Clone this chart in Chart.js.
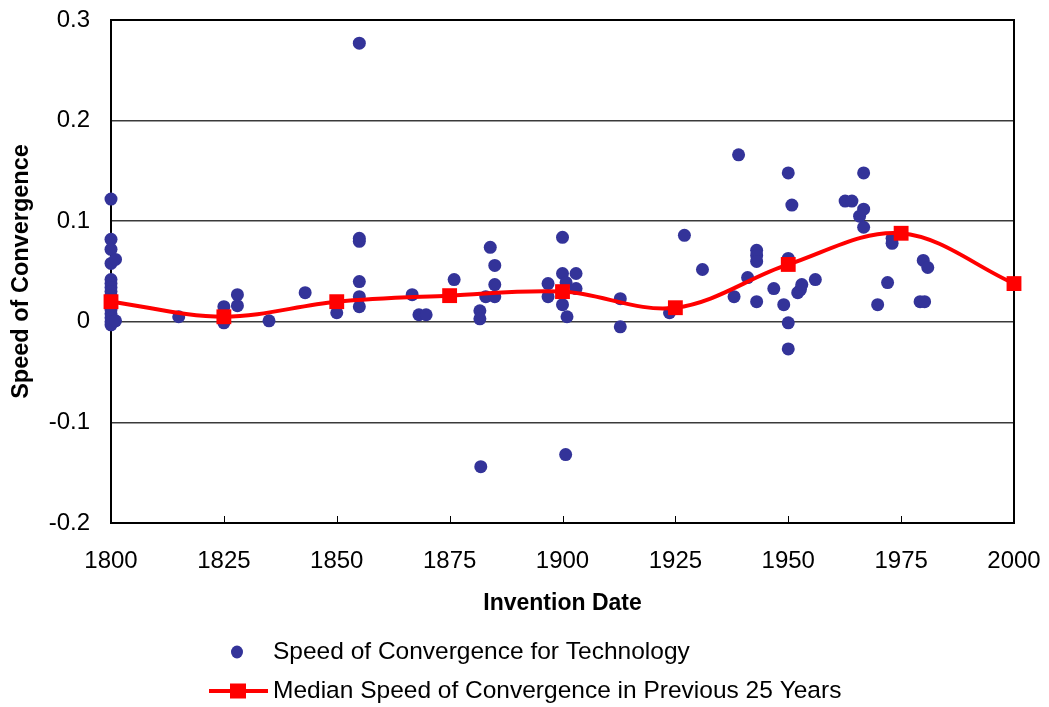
<!DOCTYPE html>
<html>
<head>
<meta charset="utf-8">
<script src="https://cdn.jsdelivr.net/npm/chart.js@4/dist/chart.umd.min.js"></script>
<style>
  html, body { margin: 0; padding: 0; background: #ffffff; }
  #wrap { width: 1049px; height: 707px; position: relative; }
</style>
</head>
<body>
<div id="wrap"><canvas id="c" width="1049" height="707"></canvas></div>
<script>
// ---- Data ----
const techYears = [
  1800, 1800, 1800, 1800, 1800, 1800, 1800, 1800, 1800, 1800, 1800, 1800, 1800, 1800, 1800, 1800,
  1801, 1801, 1815, 1825, 1825, 1828, 1828, 1835, 1843, 1850,
  1855, 1855, 1855, 1855, 1855, 1855,
  1866.7, 1868.2, 1869.8, 1876, 1881.7, 1881.7, 1881.9, 1883, 1884, 1885, 1885, 1885,
  1896.8, 1896.8, 1900, 1900, 1900, 1900.8, 1901, 1900.7, 1903, 1903,
  1912.8, 1912.8, 1923.7, 1927, 1931, 1938, 1939, 1941, 1943, 1943, 1943, 1943,
  1946.8, 1949, 1950, 1950, 1950, 1950, 1950.8, 1952.1, 1952.7, 1953, 1956,
  1962.6, 1964.1, 1965.8, 1966.7, 1966.7, 1966.7, 1969.8, 1972, 1973, 1973,
  1979.2, 1980.2, 1979.9, 1980.9
];
const techSpeeds = [
  0.122, 0.082, 0.072, 0.058, 0.042, 0.038, 0.034, 0.030, 0.026, 0.022, 0.017, 0.012, 0.008, 0.004, 0.000, -0.003,
  0.062, 0.001, 0.005, 0.015, -0.001, 0.027, 0.016, 0.001, 0.029, 0.009,
  0.277, 0.083, 0.080, 0.040, 0.025, 0.015,
  0.027, 0.007, 0.007, 0.042, 0.011, 0.003, -0.144, 0.025, 0.074, 0.056, 0.037, 0.025,
  0.038, 0.025, 0.084, 0.048, 0.017, 0.039, 0.005, -0.132, 0.048, 0.033,
  0.023, -0.005, 0.009, 0.086, 0.052, 0.025, 0.166, 0.044, 0.071, 0.066, 0.060, 0.020,
  0.033, 0.017, 0.148, 0.063, -0.001, -0.027, 0.116, 0.029, 0.032, 0.037, 0.042,
  0.120, 0.120, 0.105, 0.148, 0.112, 0.094, 0.017, 0.039, 0.083, 0.078,
  0.020, 0.020, 0.061, 0.054
];
const medianYears  = [1800, 1825, 1850, 1875, 1900, 1925, 1950, 1975, 2000];
const medianSpeeds = [0.020, 0.005, 0.020, 0.026, 0.030, 0.014, 0.057, 0.088, 0.038];
const xTickValues  = [1800, 1825, 1850, 1875, 1900, 1925, 1950, 1975, 2000];
const yTickValues  = [-0.2, -0.1, 0, 0.1, 0.2, 0.3];

const seriesNames = ['Speed of Convergence for Technology', 'Median Speed of Convergence in Previous 25 Years'];
const axisTitles  = { x: 'Invention Date', y: 'Speed of Convergence' };

const FONT = '"Liberation Sans", Arial, sans-serif';
const DOT = '#333399';
const RED = '#FF0000';

const techPoints = techYears.map((x, i) => ({ x: x, y: techSpeeds[i] }));
const medianPoints = medianYears.map((x, i) => ({ x: x, y: medianSpeeds[i] }));

// Frame + inner tick marks
const framePlugin = {
  id: 'frame',
  beforeDatasetsDraw(chart) {
    const { ctx, chartArea: a, scales } = chart;
    ctx.save();
    ctx.strokeStyle = '#000';
    ctx.lineWidth = 2;
    ctx.strokeRect(a.left, a.top, a.right - a.left, a.bottom - a.top);
    ctx.lineWidth = 1;
    ctx.beginPath();
    xTickValues.forEach(v => {
      const px = Math.round(scales.x.getPixelForValue(v)) + 0.5;
      ctx.moveTo(px, a.bottom);
      ctx.lineTo(px, a.bottom - 7);
    });
    ctx.stroke();
    ctx.restore();
  }
};

// Two-row legend under the axis title
const legendPlugin = {
  id: 'stackedLegend',
  afterDraw(chart) {
    const { ctx } = chart;
    const ds = chart.data.datasets;
    ctx.save();
    ctx.font = '24.5px ' + FONT;
    ctx.fillStyle = '#000';
    ctx.textBaseline = 'middle';
    ctx.textAlign = 'left';
    // row 1: dots
    const y1 = 652;
    ctx.fillStyle = ds[1].backgroundColor;
    ctx.beginPath();
    ctx.ellipse(237, y1, 6, 6.5, 0, 0, Math.PI * 2);
    ctx.fill();
    ctx.fillStyle = '#000';
    ctx.fillText(ds[1].label, 273, y1);
    // row 2: line with square
    const y2 = 691;
    ctx.strokeStyle = ds[0].borderColor;
    ctx.lineWidth = 4;
    ctx.beginPath();
    ctx.moveTo(209, y2);
    ctx.lineTo(268, y2);
    ctx.stroke();
    ctx.fillStyle = ds[0].backgroundColor;
    ctx.fillRect(230, y2 - 7.5, 16, 15);
    ctx.fillStyle = '#000';
    ctx.fillText(ds[0].label, 273, y2);
    ctx.restore();
  }
};

new Chart(document.getElementById('c'), {
  type: 'scatter',
  data: {
    datasets: [
      {
        label: seriesNames[1],
        data: medianPoints,
        showLine: true,
        tension: 0.35,
        borderColor: RED,
        backgroundColor: RED,
        borderWidth: 4,
        pointStyle: 'rect',
        pointRadius: 10.5,
        pointBorderWidth: 0,
        pointBackgroundColor: RED,
        clip: false,
        order: 0
      },
      {
        label: seriesNames[0],
        data: techPoints,
        showLine: false,
        backgroundColor: DOT,
        borderColor: DOT,
        pointRadius: 6.5,
        pointBorderWidth: 0,
        clip: false,
        order: 1
      }
    ]
  },
  options: {
    responsive: false,
    animation: false,
    devicePixelRatio: 1,
    layout: { autoPadding: false, padding: { left: 6, right: 35, top: 20, bottom: 90 } },
    plugins: {
      legend: { display: false },
      tooltip: { enabled: false }
    },
    scales: {
      x: {
        type: 'linear',
        min: 1800,
        max: 2000,
        afterBuildTicks(scale) { scale.ticks = xTickValues.map(v => ({ value: v })); },
        afterFit(scale) { scale.height = 94; scale.paddingLeft = 0; scale.paddingRight = 0; },
        grid: { display: false, drawTicks: false },
        border: { display: false },
        ticks: {
          padding: 24,
          color: '#000',
          font: { family: FONT, size: 24 },
          maxRotation: 0,
          autoSkip: false,
          callback: v => String(v)
        },
        title: {
          display: true,
          text: axisTitles.x,
          color: '#000',
          font: { family: FONT, size: 23, weight: 'bold' },
          padding: { top: 0, bottom: 0 }
        }
      },
      y: {
        type: 'linear',
        min: -0.2,
        max: 0.3,
        afterBuildTicks(scale) { scale.ticks = yTickValues.map(v => ({ value: v })); },
        afterFit(scale) { scale.width = 105; scale.paddingTop = 0; scale.paddingBottom = 0; },
        grid: {
          color: ctx => (ctx.tick && (Math.abs(ctx.tick.value - 0.3) < 1e-9 || Math.abs(ctx.tick.value + 0.2) < 1e-9)) ? 'rgba(0,0,0,0)' : '#3a3a3a',
          lineWidth: 1.5,
          drawTicks: false
        },
        border: { display: false },
        ticks: {
          padding: 21,
          color: '#000',
          font: { family: FONT, size: 24 },
          callback: v => String(parseFloat(Number(v).toFixed(1)) || 0)
        },
        title: {
          display: true,
          text: axisTitles.y,
          color: '#000',
          font: { family: FONT, size: 23.5, weight: 'bold' },
          padding: { top: 1, bottom: 0 }
        }
      }
    }
  },
  plugins: [framePlugin, legendPlugin]
});
</script>
</body>
</html>
